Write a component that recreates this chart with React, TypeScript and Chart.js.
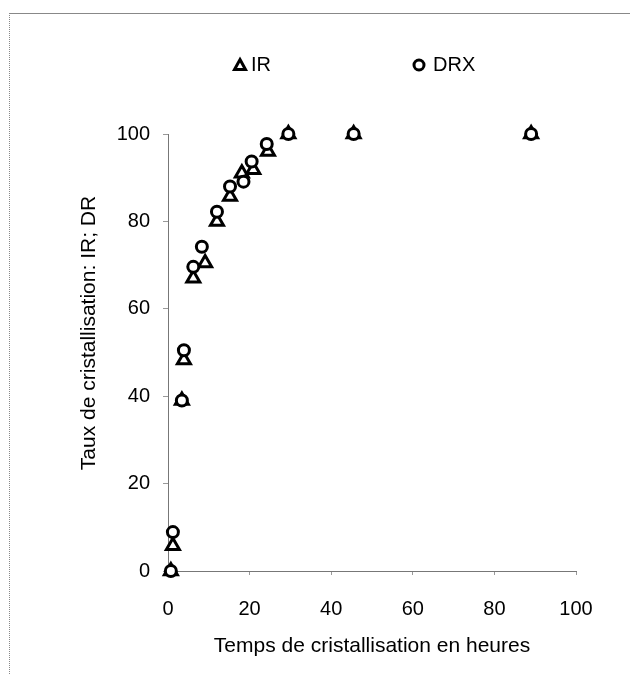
import React, { useEffect, useRef } from "react";
import { Chart, registerables } from "chart.js";

Chart.register(...registerables);

const irTime = [0.7, 1.2, 3.4, 3.9, 6.2, 9.1, 12, 15.2, 18.1, 20.9, 24.5, 29.5, 45.5, 89];
const irRate = [0, 5.8, 39, 48.3, 67, 70.5, 80, 85.7, 91, 91.8, 96, 100, 100, 100];
const drxTime = [0.7, 1.2, 3.4, 3.9, 6.2, 8.3, 12, 15.2, 18.5, 20.5, 24.2, 29.5, 45.5, 89];
const drxRate = [0, 8.9, 39, 50.5, 69.6, 74.2, 82.2, 88, 89.1, 93.7, 97.7, 100, 100, 100];

const seriesNames = ["IR", "DRX"];
const xTitle = "Temps de cristallisation en heures";
const yTitle = "Taux de cristallisation: IR; DR";

const FONT = "'Liberation Sans', Arial, sans-serif";

const overlayPlugin = {
  id: "overlay",
  afterDraw(chart: any) {
    const { ctx, chartArea } = chart;
    ctx.save();
    // y axis title
    ctx.fillStyle = "#000";
    ctx.font = `21px ${FONT}`;
    ctx.textAlign = "center";
    ctx.textBaseline = "middle";
    ctx.translate(chartArea.left - 79, chartArea.top + 199);
    ctx.rotate(-Math.PI / 2);
    ctx.fillText(yTitle, 0, 0);
    ctx.restore();

    // legend
    ctx.save();
    const ly = chartArea.top - 69;
    ctx.strokeStyle = "#000";
    ctx.fillStyle = "#000";
    ctx.lineWidth = 3;
    // triangle
    const tx = chartArea.left + 72;
    ctx.beginPath();
    ctx.moveTo(tx, ly - 5.5);
    ctx.lineTo(tx + 5.5, ly + 4.5);
    ctx.lineTo(tx - 5.5, ly + 4.5);
    ctx.closePath();
    ctx.stroke();
    // circle
    const cx = chartArea.left + 251;
    ctx.beginPath();
    ctx.arc(cx, ly, 5, 0, Math.PI * 2);
    ctx.stroke();
    ctx.font = `20px ${FONT}`;
    ctx.textAlign = "left";
    ctx.textBaseline = "middle";
    ctx.fillText(seriesNames[0], tx + 11, ly);
    ctx.fillText(seriesNames[1], cx + 14, ly);
    ctx.restore();
  },
};

export default function App() {
  const ref = useRef<HTMLCanvasElement | null>(null);
  useEffect(() => {
    if (!ref.current) return;
    const chart = new Chart(ref.current, {
      type: "scatter",
      data: {
        datasets: [
          {
            label: seriesNames[0],
            data: irTime.map((t, i) => ({ x: t, y: irRate[i] })),
            pointStyle: "triangle",
            pointRadius: 7.5,
            pointBorderWidth: 3,
            pointBorderColor: "#000",
            pointBackgroundColor: "#fff",
            order: 2,
            clip: false,
          },
          {
            label: seriesNames[1],
            data: drxTime.map((t, i) => ({ x: t, y: drxRate[i] })),
            pointStyle: "circle",
            pointRadius: 5.5,
            pointBorderWidth: 3,
            pointBorderColor: "#000",
            pointBackgroundColor: "#fff",
            order: 1,
            clip: false,
          },
        ],
      },
      options: {
        animation: false,
        responsive: false,
        layout: { padding: { left: 80, top: 134, right: 54, bottom: 14 } },
        plugins: { legend: { display: false }, tooltip: { enabled: false } },
        scales: {
          x: {
            type: "linear",
            min: 0,
            max: 100,
            ticks: { stepSize: 20, color: "#000", font: { family: FONT, size: 20 }, padding: 22 },
            grid: { drawOnChartArea: false, drawTicks: true, tickLength: 4, color: "#999" },
            border: { display: true, color: "#777", dash: [2, 2], width: 1 },
            title: {
              display: true,
              text: xTitle,
              color: "#000",
              font: { family: FONT, size: 21 },
              padding: { top: 0, bottom: 2 },
            },
            afterFit: (s: any) => {
              s.height = 90;
            },
          },
          y: {
            type: "linear",
            min: 0,
            max: 100,
            ticks: { stepSize: 20, color: "#000", font: { family: FONT, size: 20 }, padding: 13 },
            grid: { drawOnChartArea: false, drawTicks: true, tickLength: 5, color: "#999" },
            border: { display: true, color: "#777", dash: [2, 2], width: 1 },
            afterFit: (s: any) => {
              s.width = 88;
            },
          },
        },
      },
      plugins: [overlayPlugin],
    });
    return () => chart.destroy();
  }, []);

  return (
    <div style={{ position: "fixed", left: 0, top: 0, width: 630, height: 675, background: "#fff" }}>
      <div
        style={{
          position: "absolute",
          left: 9,
          top: 13,
          width: 621,
          height: 662,
          borderTop: "1px solid #888",
          borderLeft: "1px dotted #888",
        }}
      />
      <canvas ref={ref} width={630} height={675} style={{ position: "absolute", left: 0, top: 0 }} />
    </div>
  );
}
